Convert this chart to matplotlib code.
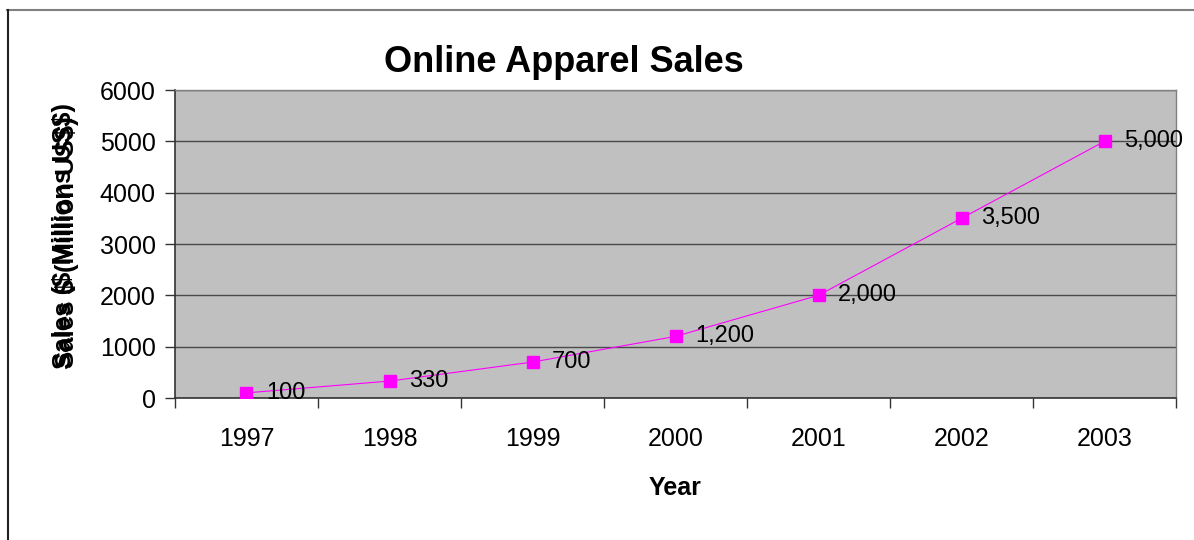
import matplotlib
matplotlib.use('Agg')
import matplotlib.pyplot as plt
from matplotlib.lines import Line2D

years = ['1997', '1998', '1999', '2000', '2001', '2002', '2003']
sales = [100, 330, 700, 1200, 2000, 3500, 5000]

plt.rcParams['font.family'] = ['Liberation Sans', 'DejaVu Sans']

fig = plt.figure(figsize=(11.94, 5.40), dpi=100)
ax = fig.add_axes([175 / 1194, 1 - 398 / 540, 1001 / 1194, 308 / 540])
ax.set_facecolor('#C0C0C0')

x = list(range(len(years)))
ax.plot(x, sales, color='#FF00FF', linewidth=0.8, marker='s',
        markersize=8, markerfacecolor='#FF00FF', markeredgecolor='#FF00FF',
        zorder=3)

for xi, v in zip(x, sales):
    ax.annotate(f'{v:,}', (xi, v), xytext=(14, 0), textcoords='offset points',
                ha='left', va='center', fontsize=17, color='black', zorder=4)

ax.set_xlim(-0.5, len(years) - 0.5)
ax.set_ylim(0, 6000)
ax.set_yticks(range(0, 6001, 1000))
ax.yaxis.grid(True, color='#4a4a4a', linewidth=1)
ax.set_axisbelow(True)

# category labels centred, tick marks on the boundaries
ax.set_xticks([i - 0.5 for i in range(len(years) + 1)])
ax.set_xticklabels([])
ax.set_xticks(x, minor=True)
ax.set_xticklabels(years, minor=True, fontsize=18)
ax.tick_params(axis='x', which='minor', length=0, pad=21)
ax.tick_params(axis='x', which='major', direction='out', length=7, width=1,
               color='#333333')
ax.tick_params(axis='y', direction='out', length=7, width=1, color='#333333',
               labelsize=18, pad=7)

for side in ['top', 'right']:
    ax.spines[side].set_color('#808080')
    ax.spines[side].set_linewidth(1)
for side in ['left', 'bottom']:
    ax.spines[side].set_color('#333333')
    ax.spines[side].set_linewidth(1.2)

ax.set_xlabel('Year', fontsize=18, fontweight='bold', labelpad=18)

# two axis titles stacked on top of each other
fig.text(64 / 1194, 1 - 236 / 540, r'Sales (\$ Millions US\$)', rotation=90,
         ha='center', va='center', fontsize=18.5, fontweight='bold')
fig.text(67 / 1194, 1 - 242 / 540, r'Sales \$ (Million US\$)', rotation=90,
         ha='center', va='center', fontsize=18.5, fontweight='bold')

fig.text(564 / 1194, 1 - 62 / 540, 'Online Apparel Sales', ha='center',
         va='center', fontsize=26, fontweight='bold')

# chart frame
fig.add_artist(Line2D([7 / 1194, 1], [1 - 10 / 540, 1 - 10 / 540],
                      transform=fig.transFigure, color='#808080', linewidth=1.5))
fig.add_artist(Line2D([7.5 / 1194, 7.5 / 1194], [0, 1 - 10 / 540],
                      transform=fig.transFigure, color='#222222', linewidth=1.5))

fig.savefig('out.png', dpi=100)
